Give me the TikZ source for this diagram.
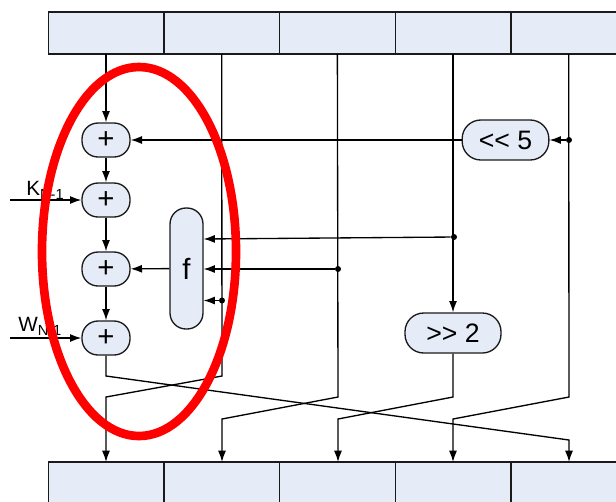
\documentclass[tikz,border=0pt]{standalone}
\usepackage{fontspec}
\setmainfont{Liberation Sans}
\usetikzlibrary{arrows.meta,positioning}
\definecolor{boxfill}{HTML}{E6ECF7}
\definecolor{boxline}{HTML}{1A1A1A}
\newcommand{\subtxt}[1]{\raisebox{-3pt}{\fontsize{11}{11}\selectfont #1}}
\tikzset{
  regbox/.style={draw=boxline,fill=boxfill,line width=1pt,minimum width=86.75pt,minimum height=31.5pt,inner sep=0pt,outer sep=0pt},
  addbox/.style={draw=boxline,fill=boxfill,line width=1pt,rounded corners=12pt,minimum width=36pt,minimum height=25.5pt,inner sep=0pt,font=\fontsize{22}{22}\selectfont},
  funcbox/.style={draw=boxline,fill=boxfill,line width=1pt,rounded corners=12pt,minimum width=24.75pt,minimum height=90.75pt,inner sep=0pt,font=\fontsize{22}{22}\selectfont},
  shiftbox/.style={draw=boxline,fill=boxfill,line width=1pt,rounded corners=14pt,minimum height=30pt,inner sep=0pt,font=\fontsize{20}{20}\selectfont},
  tap/.style={circle,fill=black,inner sep=0pt,minimum size=4.5pt},
  wire/.style={draw=black,line width=1pt},
  inlabel/.style={anchor=base west,inner sep=0pt,font=\fontsize{15.5}{15.5}\selectfont}
}
\begin{document}
\begin{tikzpicture}[x=0.75pt,y=-0.75pt,node distance=86.75pt,on grid,>={Latex[length=8.5pt,width=6pt]}]
  \useasboundingbox (0,0) rectangle (616,501);
  \clip (0,0) rectangle (616,501);
  % registers
  \node[regbox] (a_0) at (106,33) {};
  \node[regbox] (b_0) [right=of a_0] {};
  \node[regbox] (c_0) [right=of b_0] {};
  \node[regbox] (d_0) [right=of c_0] {};
  \node[regbox] (e_0) [right=of d_0] {};
  \node[regbox] (a_1) at (106,483) {};
  \node[regbox] (b_1) [right=of a_1] {};
  \node[regbox] (c_1) [right=of b_1] {};
  \node[regbox] (d_1) [right=of c_1] {};
  \node[regbox] (e_1) [right=of d_1] {};
  % adders
  \node[addbox] (add_0) at (106,140) {+};
  \node[addbox] (add_1) at (106,200) {+};
  \node[addbox] (add_2) at (106,269) {+};
  \node[addbox] (add_3) at (106,338) {+};
  \node[funcbox] (f_0) at (186.5,268.5) {f};
  \node[shiftbox,minimum width=65pt] (rot_5) at (505.5,140) {<{}< 5};
  \node[shiftbox,minimum width=72pt] (rot_2) at (453,333) {>{}> 2};
  % tap points
  \node[tap] (t_e) at (569,140) {};
  \node[tap] (t_d) at (454,237) {};
  \node[tap] (t_c) at (338,269) {};
  \node[tap] (t_b) at (222,300.5) {};
  % free ends and bends
  \coordinate (k_in) at (10,200);
  \coordinate (w_in) at (10,338);
  \coordinate (f_d) at (203.5,239);
  \coordinate (f_c) at (203.5,269);
  \coordinate (f_b) at (203.5,300.5);
  \coordinate (a_hi) at (106,376);
  \coordinate (e_lo) at (569,440);
  \coordinate (b_hi) at (222,376);
  \coordinate (a_lo) at (106,397);
  \coordinate (c_hi) at (338,397);
  \coordinate (b_lo) at (222,419);
  \coordinate (d_hi) at (453,397);
  \coordinate (c_lo) at (338,419);
  \coordinate (e_hi) at (569,397);
  \coordinate (d_lo) at (453,419);
  % labels
  \node[inlabel] (k_txt) at (26,195) {K\subtxt{N-1}};
  \node[inlabel] (w_txt) at (18,331) {W\subtxt{N-1}};
  % wires
  \path[->,line width=1pt] (a_0) edge (add_0)
    (add_0) edge (add_1)
    (add_1) edge (add_2)
    (add_2) edge (add_3)
    (k_in) edge (add_1)
    (w_in) edge (add_3)
    (rot_5) edge (add_0)
    (f_0) edge (add_2)
    (t_e) edge (rot_5)
    (t_d) edge (f_d)
    (t_c) edge (f_c)
    (t_b) edge (f_b)
    (d_0) edge (rot_2);
  \draw[wire,->] (add_3) -- (a_hi) -- (e_lo) -- (e_lo |- e_1.north);
  \draw[wire,->] (b_0) -- (b_hi) -- (a_lo) -- (a_lo |- a_1.north);
  \draw[wire,->] (c_0) -- (c_hi) -- (b_lo) -- (b_lo |- b_1.north);
  \draw[wire,->] (rot_2) -- (d_hi) -- (c_lo) -- (c_lo |- c_1.north);
  \draw[wire,->] (e_0) -- (e_hi) -- (d_lo) -- (d_lo |- d_1.north);
  % highlight
  \draw[red,line width=6.5pt] (139,251.5) ellipse [x radius=97,y radius=184.5];
\end{tikzpicture}
\end{document}
